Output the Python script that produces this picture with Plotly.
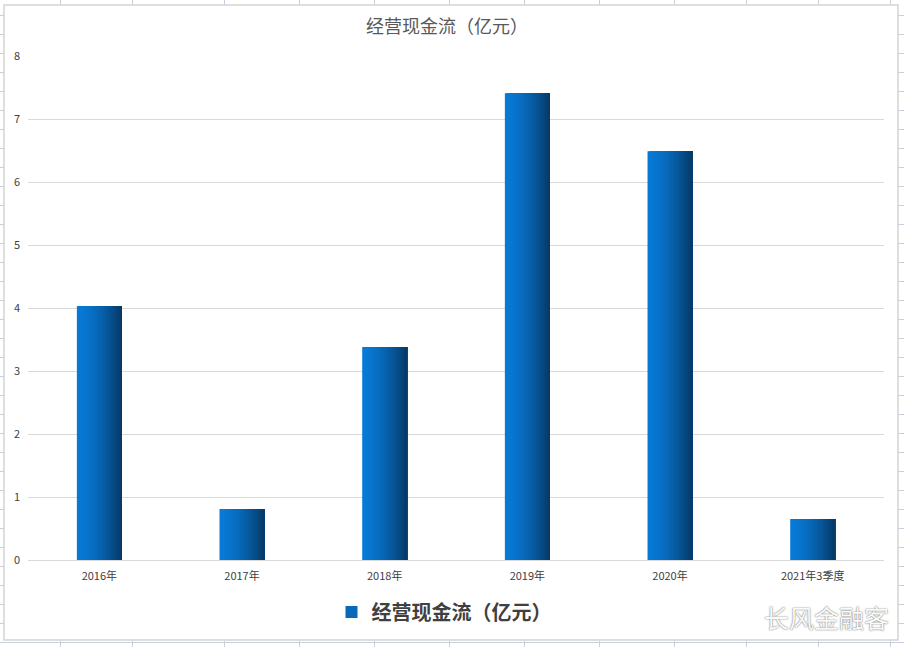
import plotly.graph_objects as go

# ---- data ----
categories = ["2016年", "2017年", "2018年", "2019年", "2020年", "2021年3季度"]
cash_flow = [4.03, 0.81, 3.38, 7.41, 6.49, 0.65]
series_name = "经营现金流（亿元）"
y_ticks = [0, 1, 2, 3, 4, 5, 6, 7, 8]

W, H = 904, 647
ML, MR, MT, MB = 28, 20, 56, 87
PW, PH = W - ML - MR, H - MT - MB


def px(x):
    return (x - ML) / PW


def py(y):
    return (H - MB - y) / PH


def lerp(c1, c2, t):
    return "#%02x%02x%02x" % tuple(round(a + (b - a) * t) for a, b in zip(c1, c2))


fig = go.Figure()

# gradient bars built from overlapping slices (each runs to the bar's right edge)
N = 30
bar_w = 0.315
slice_w = bar_w / N
c_left = (8, 122, 214)
c_right = (6, 56, 102)
for i in range(N):
    t = (i + 0.5) / N
    col = lerp(c_left, c_right, t ** 1.6)
    fig.add_trace(go.Bar(
        x=categories, y=cash_flow,
        width=[bar_w - i * slice_w] * len(categories),
        offset=[-bar_w / 2 + i * slice_w] * len(categories),
        marker=dict(color=col, line=dict(width=0)),
        showlegend=False, hoverinfo="skip",
    ))

# legend entry
fig.add_trace(go.Bar(
    x=[categories[0]], y=[None], name=series_name,
    marker=dict(color="#0a68b8", line=dict(width=0)),
    showlegend=True,
))

shapes = []
grid_col = "#c7cfe0"
# chart box
shapes.append(dict(type="rect", xref="paper", yref="paper",
                   x0=px(4), x1=px(898), y0=py(640), y1=py(5),
                   line=dict(color="#d4d4d4", width=1.5), fillcolor="white", layer="below"))
# spreadsheet column lines (top & bottom strips)
cols = [60.5, 132.5, 224.5, 299.5, 374.5, 449.5, 524.5, 599.5, 674.5, 746.5, 818.5, 890.5]
for c in cols:
    shapes.append(dict(type="line", xref="paper", yref="paper",
                       x0=px(c), x1=px(c), y0=py(0), y1=py(5),
                       line=dict(color=grid_col, width=1), layer="below"))
    shapes.append(dict(type="line", xref="paper", yref="paper",
                       x0=px(c), x1=px(c), y0=py(641), y1=py(647),
                       line=dict(color=grid_col, width=1), layer="below"))
# spreadsheet row lines (left & right strips)
for k in range(34):
    r = 15.5 + 19 * k
    if r > 647:
        break
    shapes.append(dict(type="line", xref="paper", yref="paper",
                       x0=px(0), x1=px(4), y0=py(r), y1=py(r),
                       line=dict(color=grid_col, width=1), layer="below"))
    shapes.append(dict(type="line", xref="paper", yref="paper",
                       x0=px(898), x1=px(904), y0=py(r), y1=py(r),
                       line=dict(color=grid_col, width=1), layer="below"))
# bottom spreadsheet row line
shapes.append(dict(type="line", xref="paper", yref="paper",
                   x0=px(0), x1=px(904), y0=py(642.5), y1=py(642.5),
                   line=dict(color=grid_col, width=1), layer="below"))

fig.update_layout(
    width=W, height=H,
    margin=dict(l=ML, r=MR, t=MT, b=MB, pad=0),
    paper_bgcolor="white", plot_bgcolor="rgba(0,0,0,0)",
    barmode="overlay",
    font=dict(family="Noto Sans CJK SC, sans-serif", color="#595959"),
    title=dict(text=series_name, x=px(447), xref="paper", xanchor="center",
               y=1 - 27 / H, yanchor="middle",
               font=dict(size=18, color="#595959", family="Noto Sans CJK SC")),
    xaxis=dict(type="category", showgrid=False, showline=False, zeroline=False,
               tickfont=dict(size=11, color="#404040"), ticks="", ticklabelstandoff=8,
               range=[-0.5, len(categories) - 0.5]),
    yaxis=dict(range=[0, 8], tickvals=y_ticks, showgrid=True, gridcolor="#d9d9d9",
               gridwidth=1, zeroline=True, zerolinecolor="#d9d9d9", zerolinewidth=1,
               showline=False, ticks="", ticklabelstandoff=7,
               tickfont=dict(size=11, color="#404040")),
    legend=dict(orientation="h", x=px(444), xanchor="center", y=py(612), yanchor="middle",
                font=dict(size=20, color="#404040", family="Noto Sans CJK SC", weight="bold"),
                bgcolor="rgba(0,0,0,0)", itemwidth=30),
    shapes=shapes,
    annotations=[dict(text="长风金融客", xref="paper", yref="paper",
                      x=px(826), y=py(617), xanchor="center", yanchor="middle",
                      showarrow=False,
                      font=dict(size=25, color="#fafafa", family="Noto Sans CJK SC",
                                shadow="0px 0px 1.5px #444"))],
    showlegend=True,
)

fig.write_html("out.html", config={"displayModeBar": False},
               post_script="document.body.style.margin='0';document.body.style.overflow='hidden';")
